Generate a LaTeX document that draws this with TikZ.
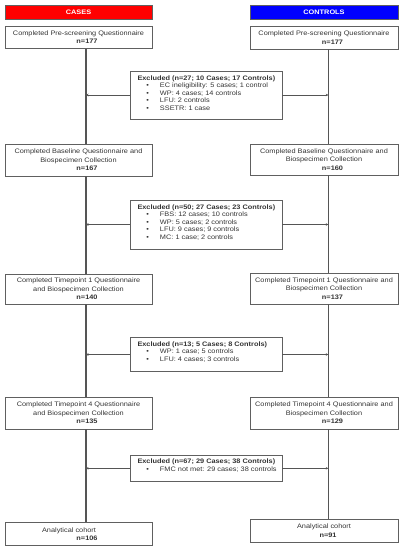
\documentclass[tikz,border=0pt]{standalone}
\usepackage{fontspec}
\setmainfont[FakeStretch=1.13]{Liberation Sans}
\usetikzlibrary{arrows.meta}
\definecolor{txt}{HTML}{333333}
\definecolor{bord}{HTML}{606060}
\definecolor{vline}{HTML}{555555}
\definecolor{casered}{HTML}{FF0000}
\definecolor{ctrlblue}{HTML}{0000FF}
\newcommand\bl[1]{\par\hspace*{8.9pt}\makebox[13.6pt][l]{\textbullet}#1}
\newcommand\exttl[1]{\rule{0pt}{9pt}\textbf{#1}}
\begin{document}
\begin{tikzpicture}[x=1pt,y=-1pt,
  box/.style={draw=bord, line width=0.7pt, text=txt, align=center, inner sep=0pt,
    font=\fontsize{6.5pt}{8.5pt}\selectfont},
  hdr/.style={draw=bord, line width=0.5pt, text=white, inner sep=0pt,
    minimum height=14pt, font=\fontsize{6.5pt}{8pt}\selectfont\bfseries},
  exbox/.style={draw=bord, line width=0.7pt, text=txt, inner sep=0pt,
    font=\fontsize{6.5pt}{7.5pt}\selectfont},
  vl/.style={draw=vline, line width=1.3pt},
  exarr/.style={draw=vline, line width=0.6pt, -{Stealth[length=2.5pt,width=2.5pt]}}
]
\useasboundingbox (0,0) rectangle (404,550);
\coordinate (cl) at (86,0);
\coordinate (cr) at (328.3,0);

% headers
\node[hdr, fill=casered, minimum width=147pt] (hl) at (78.5,12) {CASES};
\node[hdr, fill=ctrlblue, minimum width=148pt] (hr) at (324,12) {CONTROLS};

% left boxes
\node[box, minimum width=147pt, minimum height=22.5pt] (L1) at (78.5,37.3)
  {Completed Pre-screening Questionnaire\\\hspace*{17pt}\textbf{n=177}};
\node[box, minimum width=147pt, minimum height=32pt] (L2) at (78.5,160)
  {Completed Baseline Questionnaire and\\Biospecimen Collection\\\hspace*{17pt}\textbf{n=167}};
\node[box, minimum width=147pt, minimum height=30pt] (L3) at (78.5,289)
  {Completed Timepoint 1 Questionnaire\\and Biospecimen Collection\\\hspace*{17pt}\textbf{n=140}};
\node[box, minimum width=147pt, minimum height=32pt] (L4) at (78.5,413)
  {Completed Timepoint 4 Questionnaire\\and Biospecimen Collection\\\hspace*{17pt}\textbf{n=135}};
\node[box, minimum width=147pt, minimum height=22.5pt] (L5) at (78.5,534)
  {\hspace*{-19pt}Analytical cohort\\\hspace*{17pt}\textbf{n=106}};

% right boxes
\node[box, minimum width=148pt, minimum height=23pt] (R1) at (324,37.5)
  {Completed Pre-screening Questionnaire\\\hspace*{17pt}\textbf{n=177}};
\node[box, minimum width=148pt, minimum height=31pt] (R2) at (324,159.5)
  {Completed Baseline Questionnaire and\\Biospecimen Collection\\\hspace*{17pt}\textbf{n=160}};
\node[box, minimum width=148pt, minimum height=31pt] (R3) at (324,288.5)
  {Completed Timepoint 1 Questionnaire and\\Biospecimen Collection\\\hspace*{17pt}\textbf{n=137}};
\node[box, minimum width=148pt, minimum height=32pt] (R4) at (324,413)
  {Completed Timepoint 4 Questionnaire and\\Biospecimen Collection\\\hspace*{17pt}\textbf{n=129}};
\node[box, minimum width=148pt, minimum height=23pt] (R5) at (324,530.5)
  {Analytical cohort\\\hspace*{8pt}\textbf{n=91}};

% excluded boxes
\node[exbox] (E1) at (206,95) {\begin{minipage}[c][48pt][t]{152pt}\leftskip=7.5pt
  \exttl{Excluded (n=27; 10 Cases; 17 Controls)}
  \bl{EC ineligibility: 5 cases; 1 control}
  \bl{WP: 4 cases; 14 controls}
  \bl{LFU: 2 controls}
  \bl{SSETR: 1 case}\end{minipage}};
\node[exbox] (E2) at (206,224.5) {\begin{minipage}[c][49pt][t]{152pt}\leftskip=7.5pt
  \exttl{Excluded (n=50; 27 Cases; 23 Controls)}
  \bl{FBS: 12 cases; 10 controls}
  \bl{WP: 5 cases; 2 controls}
  \bl{LFU: 9 cases; 9 controls}
  \bl{MC: 1 case; 2 controls}\end{minipage}};
\node[exbox] (E3) at (206,354.5) {\begin{minipage}[c][34.5pt][t]{152pt}\leftskip=7.5pt
  \exttl{Excluded (n=13; 5 Cases; 8 Controls)}
  \bl{WP: 1 case; 5 controls}
  \bl{LFU: 4 cases; 3 controls}\end{minipage}};
\node[exbox] (E4) at (206,468.3) {\begin{minipage}[c][26.7pt][t]{152pt}\leftskip=7.5pt
  \exttl{Excluded (n=67; 29 Cases; 38 Controls)}
  \bl{FMC not met: 29 cases; 38 controls}\end{minipage}};

% vertical lines
\draw[vl] (L1.south -| cl) -- (L2.north -| cl);
\draw[vl] (L2.south -| cl) -- (L3.north -| cl);
\draw[vl] (L3.south -| cl) -- (L4.north -| cl);
\draw[vl] (L4.south -| cl) -- (L5.north -| cl);
\draw[vl] (R1.south -| cr) -- (R2.north -| cr);
\draw[vl] (R2.south -| cr) -- (R3.north -| cr);
\draw[vl] (R3.south -| cr) -- (R4.north -| cr);
\draw[vl] (R4.south -| cr) -- (R5.north -| cr);

% exclusion arrows
\foreach \e in {E1,E2,E3,E4}{
  \draw[exarr] (\e.west) -- (\e.west -| cl);
  \draw[exarr] (\e.east) -- (\e.east -| cr);
}
\end{tikzpicture}
\end{document}
